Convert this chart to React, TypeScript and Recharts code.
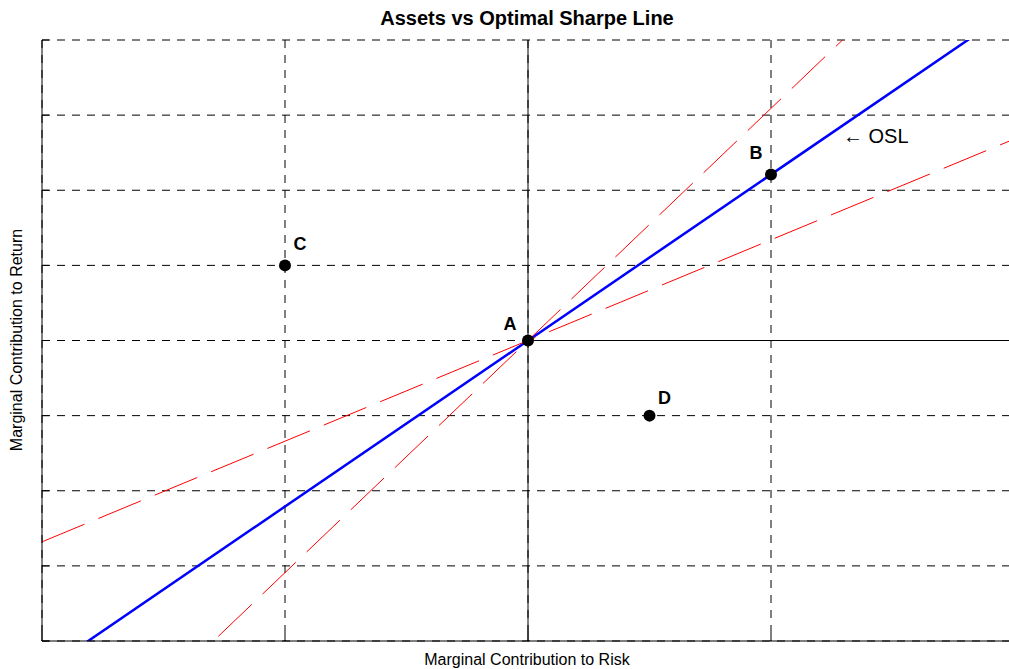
import React from 'react'
import {
  CartesianGrid,
  ComposedChart,
  LabelList,
  Line,
  ReferenceDot,
  ReferenceLine,
  Scatter,
  XAxis,
  YAxis,
} from 'recharts'

// axis grid
const xTicks = [-2, -1, 0, 1, 2]
const yTicks = [-4, -3, -2, -1, 0, 1, 2, 3, 4]

// assets in (risk, return) space
const assetNames = ['A', 'B', 'C', 'D']
const assetRisk = [0, 1, -1, 0.5]
const assetReturn = [0, 2.21, 1, -1]

// line end points
const lineX = [-2, 2]
const oslY = [-4.42, 4.42]
const steepY = [-6.18, 6.18]
const shallowY = [-2.68, 2.68]

const assets = assetNames.map((name, i) => ({ name, x: assetRisk[i], y: assetReturn[i] }))
const toSeries = (ys: number[]) => lineX.map((x, i) => ({ x, y: ys[i] }))

// where each asset letter sits relative to its dot
const labelOffset: Record<string, [number, number]> = {
  A: [-18, -17],
  B: [-15, -21],
  C: [15, -21],
  D: [15, -18],
}

const FONT = '"Liberation Sans", Arial, sans-serif'

const AssetLabel = (props: any) => {
  const { x, y, width, height, value } = props
  const [dx, dy] = labelOffset[value] || [0, 0]
  const cx = x + (width || 0) / 2
  const cy = y + (height || 0) / 2
  return (
    <text
      x={cx + dx}
      y={cy + dy}
      textAnchor="middle"
      dominantBaseline="central"
      fontFamily={FONT}
      fontSize={18}
      fontWeight="bold"
      fill="#000"
    >
      {value}
    </text>
  )
}

const Dot = (props: any) => <circle cx={props.cx} cy={props.cy} r={6} fill="#000" />
const NoTick = () => <g />

export default function App() {
  return (
    <div
      style={{
        position: 'absolute',
        left: 0,
        top: 0,
        width: 1009,
        height: 669,
        overflow: 'hidden',
        background: '#fff',
        fontFamily: FONT,
        color: '#000',
      }}
    >
      <div
        style={{
          position: 'absolute',
          left: 0,
          top: 6,
          width: 1054,
          textAlign: 'center',
          fontSize: 20,
          lineHeight: '24px',
          fontWeight: 'bold',
        }}
      >
        Assets vs Optimal Sharpe Line
      </div>
      <div
        style={{
          position: 'absolute',
          left: 0,
          top: 651,
          width: 1054,
          textAlign: 'center',
          fontSize: 16,
          lineHeight: '18px',
        }}
      >
        Marginal Contribution to Risk
      </div>
      <div
        style={{
          position: 'absolute',
          left: 17,
          top: 340,
          whiteSpace: 'nowrap',
          fontSize: 16,
          lineHeight: '18px',
          transform: 'translate(-50%, -50%) rotate(-90deg)',
        }}
      >
        Marginal Contribution to Return
      </div>
      <ComposedChart
        width={1014}
        height={669}
        margin={{ top: 40, right: 0, bottom: 28, left: 42 }}
        style={{ position: 'absolute', left: 0, top: 0 }}
      >
        <CartesianGrid
          stroke="#000"
          strokeDasharray="8 7"
          horizontalValues={yTicks}
          verticalValues={xTicks}
        />
        <XAxis
          type="number"
          dataKey="x"
          domain={[-2, 2]}
          ticks={xTicks}
          interval={0}
          allowDataOverflow
          tick={<NoTick />}
          mirror
          tickSize={8}
          stroke="#000"
        />
        <YAxis
          type="number"
          dataKey="y"
          domain={[-4, 4]}
          ticks={yTicks}
          interval={0}
          allowDataOverflow
          tick={<NoTick />}
          mirror
          tickSize={7}
          stroke="#000"
        />

        <ReferenceLine x={0} stroke="#000" strokeWidth={1} />
        <ReferenceLine
          segment={[
            { x: 0, y: 0 },
            { x: 2, y: 0 },
          ]}
          stroke="#000"
          strokeWidth={1}
        />

        <Line
          data={toSeries(oslY)}
          dataKey="y"
          stroke="#0000ff"
          strokeWidth={2.5}
          dot={false}
          isAnimationActive={false}
        />
        <Scatter data={assets} dataKey="y" shape={<Dot />} isAnimationActive={false}>
          <LabelList dataKey="name" content={<AssetLabel />} />
        </Scatter>
        <Line
          data={toSeries(steepY)}
          dataKey="y"
          stroke="#ff0000"
          strokeWidth={1}
          strokeDasharray="46 15"
          dot={false}
          isAnimationActive={false}
        />
        <Line
          data={toSeries(shallowY)}
          dataKey="y"
          stroke="#ff0000"
          strokeWidth={1}
          strokeDasharray="46 15"
          dot={false}
          isAnimationActive={false}
        />

        <ReferenceDot
          x={1.296}
          y={2.73}
          r={0}
          stroke="none"
          label={{
            value: '\u2190 OSL',
            position: 'right',
            offset: 0,
            fontFamily: FONT,
            fontSize: 20,
            fill: '#000',
          }}
        />
      </ComposedChart>
    </div>
  )
}
